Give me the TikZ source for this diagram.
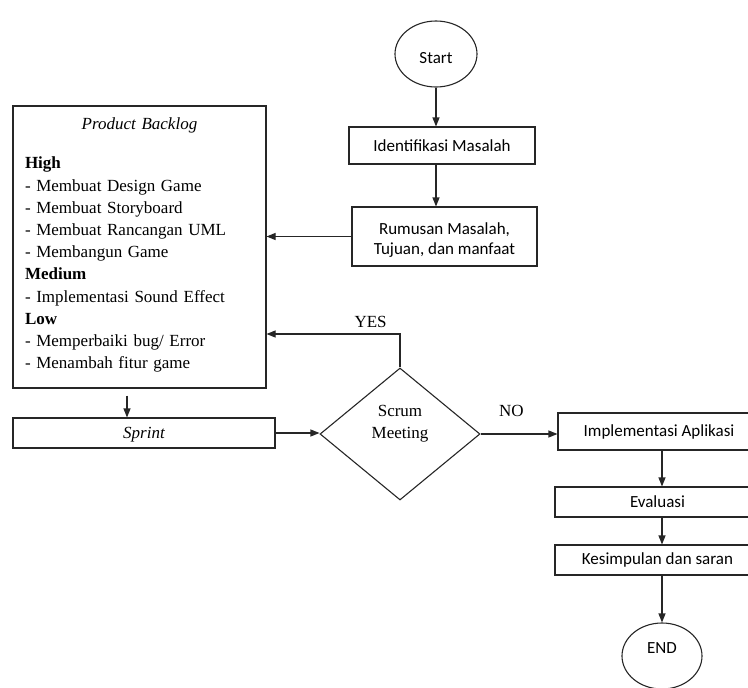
\documentclass[tikz,border=0pt]{standalone}
\usepackage{fontspec}
\setmainfont{Liberation Serif}
\newfontfamily\calibri{Carlito}
\usetikzlibrary{arrows.meta,shapes,positioning}
\tikzstyle{term}=[draw,ellipse,minimum width=82pt,minimum height=66pt,inner sep=0,
                font=\calibri\fontsize{17}{20}\selectfont]
\tikzstyle{proc}=[draw,rectangle,inner sep=0,align=center,
                font=\calibri\fontsize{17}{20}\selectfont]
\tikzstyle{decide}=[draw,diamond,minimum width=160pt,minimum height=132pt,inner sep=0,
                align=center,font=\fontsize{17}{22}\selectfont]
\tikzstyle{hit}=[->,>={Triangle[length=9pt,width=7pt]}]
\tikzstyle{lbl}=[font=\fontsize{17}{20}\selectfont,inner sep=0]

\begin{document}
\begin{tikzpicture}[x=1pt,y=-1pt,line width=1.1pt,draw=black!85]
  \useasboundingbox (0,0) rectangle (748,688);
  % left column
  \node[term] (start) at (436,54) {\rule{0pt}{19pt}Start};
  \node[proc,minimum width=186pt,minimum height=37pt] (ident) at (442,145.5) {Identifikasi Masalah};
  \node[proc,minimum width=185pt,minimum height=59pt] (rumus) at (444.5,236.5) {\rule{0pt}{19pt}Rumusan Masalah,\\Tujuan, dan manfaat};
  \node[draw,minimum width=253pt,minimum height=282pt,text width=229pt,inner xsep=12pt,inner ysep=0,
        align=left,font=\fontsize{17}{22.2}\selectfont] (backlog) at (139.5,247)
    {\makebox[229pt]{\textit{Product Backlog}}\\[16.8pt]
     \textbf{High}\\
     - Membuat Design Game\\
     - Membuat Storyboard\\
     - Membuat Rancangan UML\\
     - Membangun Game\\
     \textbf{Medium}\\
     - Implementasi Sound Effect\\
     \textbf{Low}\\
     - Memperbaiki bug/ Error\\
     - Menambah fitur game\rule[-7pt]{0pt}{0pt}};
  \node[draw,minimum width=262pt,minimum height=30pt,inner sep=0,font=\fontsize{17}{20}\selectfont\itshape] (sprint) at (144,433) {\rule{0pt}{14pt}Sprint};
  \node[decide] (scrum) at (400,434) {Scrum\\Meeting\rule[-24pt]{0pt}{0pt}};
  % right column
  \node[proc,minimum width=202pt,minimum height=37pt] (impl) at (659,431.5) {Implementasi Aplikasi};
  \node[proc,minimum width=205pt,minimum height=30pt] (eval) at (657.5,502) {Evaluasi};
  \node[proc,minimum width=205pt,minimum height=30pt] (kesim) at (657.5,560) {Kesimpulan dan saran};
  \node[term,minimum width=80pt] (fin) at (662,656) {END\rule[-16pt]{0pt}{0pt}};

  \draw[hit] (start.south) -- (start.south |- ident.north);
  \draw[hit] (start.south |- ident.south) -- (start.south |- rumus.north);
  \draw[hit] (rumus.west) -- (rumus.west -| backlog.east);
  \draw[hit,shorten <=7pt] ([xshift=-12.5pt]backlog.south) -- ([xshift=-12.5pt]backlog.south |- sprint.north);
  \draw[hit] (sprint.east) -- (sprint.east -| scrum.west);
  \draw[hit] (scrum.north) |- node[lbl,above=6pt,pos=0.61] (yes) {YES} (backlog.east |- 0,334);
  \draw[hit] (scrum.east) -- node[lbl,above=17pt,pos=0.4] (no) {NO} (scrum.east -| impl.west);
  \draw[hit] (fin.north |- impl.south) -- (fin.north |- eval.north);
  \draw[hit] (fin.north |- eval.south) -- (fin.north |- kesim.north);
  \draw[hit] (fin.north |- kesim.south) -- (fin.north);
\end{tikzpicture}
\end{document}
